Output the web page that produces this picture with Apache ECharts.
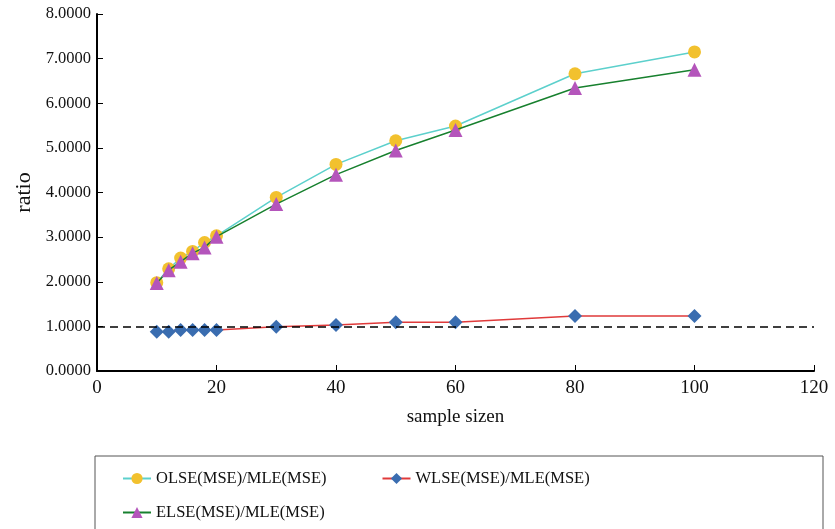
<!DOCTYPE html>
<html>
<head>
<meta charset="utf-8">
<script src="https://cdn.jsdelivr.net/npm/echarts@6/dist/echarts.min.js"></script>
<style>
  html, body { margin: 0; padding: 0; background: #fff; }
  #chartmain1 { width: 835px; height: 529px; }
</style>
</head>
<body>
<div id="chartmain1"></div>
<script>
var sampleSizes = [10, 12, 14, 16, 18, 20, 30, 40, 50, 60, 80, 100];
var olse = [1.98, 2.29, 2.53, 2.68, 2.88, 3.03, 3.89, 4.63, 5.16, 5.49, 6.66, 7.15];
var wlse = [0.88, 0.88, 0.92, 0.92, 0.92, 0.92, 0.99, 1.03, 1.09, 1.09, 1.23, 1.23];
var else_ = [1.97, 2.26, 2.45, 2.64, 2.77, 3.01, 3.74, 4.40, 4.94, 5.40, 6.34, 6.75];
var yTicks = [0, 1, 2, 3, 4, 5, 6, 7, 8];

function pairs(vals) {
    var out = [];
    for (var i = 0; i < sampleSizes.length; i++) {
        out.push([sampleSizes[i], vals[i]]);
    }
    return out;
}

var serif = 'Liberation Serif';
var myChart = echarts.init(document.getElementById('chartmain1'));
var option = {
    animation: false,
    textStyle: {fontFamily: serif},
    grid: {left: 97, right: 21, top: 14, bottom: 158},
    xAxis: {
        type: 'value',
        min: 0,
        max: 120,
        interval: 20,
        name: 'sample sizen',
        nameLocation: 'middle',
        nameGap: 37,
        nameTextStyle: {fontFamily: serif, fontSize: 19, color: '#111'},
        axisLine: {show: true, lineStyle: {color: '#000', width: 2}},
        axisTick: {show: true, inside: true, length: 6, lineStyle: {color: '#000', width: 1}},
        axisLabel: {fontFamily: serif, fontSize: 19, color: '#111', margin: 8},
        splitLine: {show: false}
    },
    yAxis: {
        type: 'value',
        min: yTicks[0],
        max: yTicks[yTicks.length - 1],
        interval: 1,
        name: 'ratio',
        nameLocation: 'middle',
        nameGap: 62,
        nameRotate: 90,
        nameTextStyle: {fontFamily: serif, fontSize: 22, color: '#111'},
        axisLine: {show: true, lineStyle: {color: '#000', width: 2}},
        axisTick: {show: true, inside: true, length: 6, lineStyle: {color: '#000', width: 1}},
        axisLabel: {
            fontFamily: serif, fontSize: 16.5, color: '#111', margin: 6,
            formatter: function (v) { return v.toFixed(4); }
        },
        splitLine: {show: false}
    },
    legend: [
        {
            left: 122, top: 470, padding: 0,
            itemWidth: 28, itemHeight: 14, itemGap: 55,
            textStyle: {fontFamily: serif, fontSize: 16.5, color: '#111'},
            data: ['OLSE(MSE)/MLE(MSE)', 'WLSE(MSE)/MLE(MSE)']
        },
        {
            left: 122, top: 504, padding: 0,
            itemWidth: 28, itemHeight: 14,
            textStyle: {fontFamily: serif, fontSize: 16.5, color: '#111'},
            data: ['ELSE(MSE)/MLE(MSE)']
        }
    ],
    graphic: [
        {
            type: 'rect',
            shape: {x: 95, y: 456, width: 728, height: 90},
            style: {fill: 'none', stroke: '#555', lineWidth: 1}
        }
    ],
    series: [
        {
            name: 'ref',
            type: 'line',
            data: [],
            z: 1,
            markLine: {
                silent: true,
                symbol: 'none',
                label: {show: false},
                lineStyle: {color: '#000', type: [8, 5], width: 1.5},
                data: [{yAxis: 1}]
            }
        },
        {
            name: 'OLSE(MSE)/MLE(MSE)',
            type: 'line',
            data: pairs(olse),
            symbol: 'circle',
            symbolSize: 13,
            itemStyle: {color: '#f2c12e'},
            lineStyle: {color: '#5cd0cc', width: 1.5},
            z: 3
        },
        {
            name: 'WLSE(MSE)/MLE(MSE)',
            type: 'line',
            data: pairs(wlse),
            symbol: 'diamond',
            symbolSize: 14,
            itemStyle: {color: '#3a6db0'},
            lineStyle: {color: '#e03a3a', width: 1.5},
            z: 3
        },
        {
            name: 'ELSE(MSE)/MLE(MSE)',
            type: 'line',
            data: pairs(else_),
            symbol: 'triangle',
            symbolSize: 14,
            itemStyle: {color: '#b455bb'},
            lineStyle: {color: '#17802e', width: 1.5},
            z: 4
        }
    ]
};
myChart.setOption(option);
</script>
</body>
</html>
